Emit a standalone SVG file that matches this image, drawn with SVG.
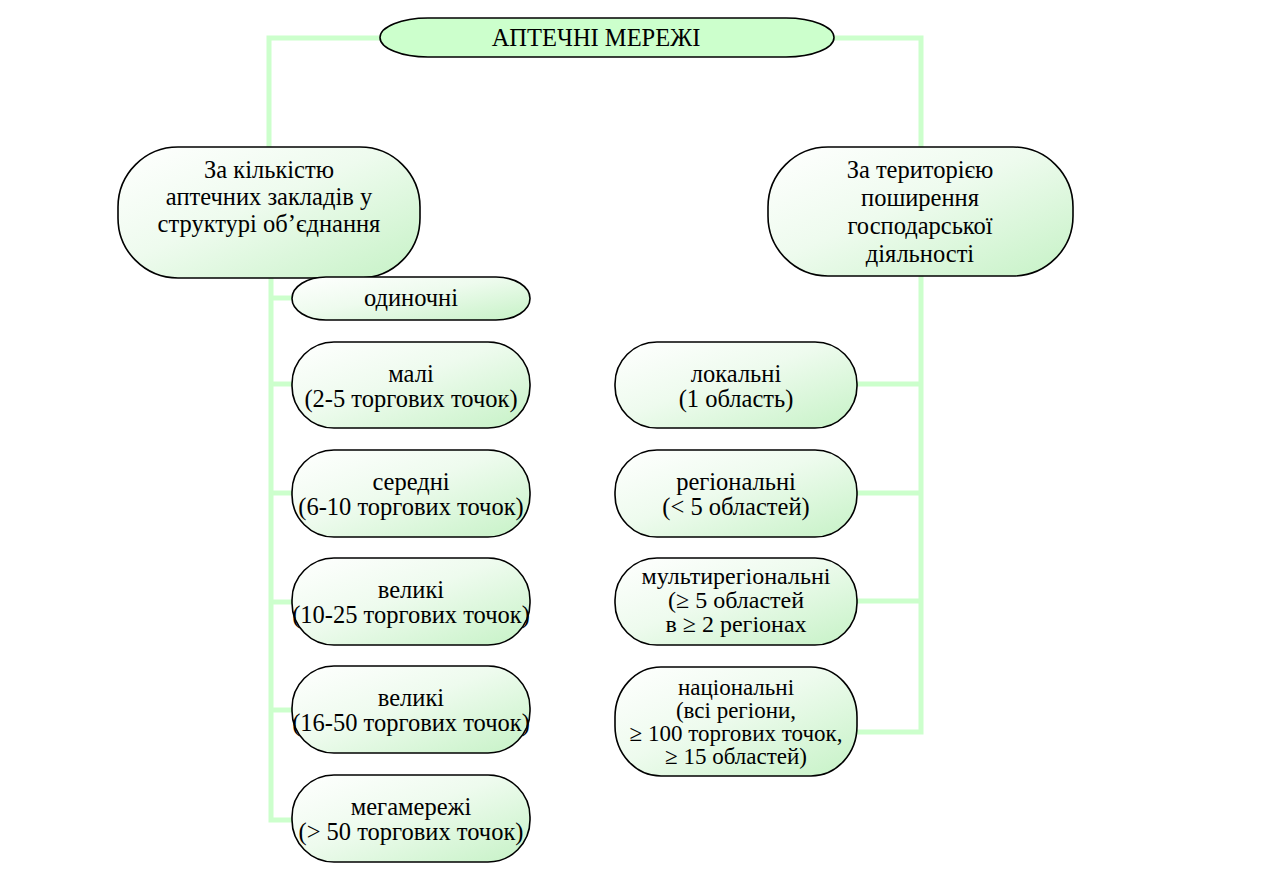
<svg xmlns="http://www.w3.org/2000/svg" width="1280" height="877" viewBox="0 0 1280 877">
<defs>
<linearGradient id="g" x1="0" y1="0" x2="1" y2="1">
<stop offset="0" stop-color="#ffffff"/>
<stop offset="0.45" stop-color="#eefbee"/>
<stop offset="1" stop-color="#c6f2c6"/>
</linearGradient>
</defs>
<style>
.conn{fill:none;stroke:#ccffcc;stroke-width:5;stroke-linejoin:miter}
.box{fill:url(#g);stroke:#000;stroke-width:1.6}
.top{fill:#ccffcc;stroke:#000;stroke-width:1.6}
text{font-family:"Liberation Serif","Times New Roman",serif;font-size:24.5px;fill:#000;text-anchor:middle}
.t24{font-size:24px}
.t23{font-size:23px}
</style>
<rect width="1280" height="877" fill="#fff"/>
<g id="connectors">
<polyline class="conn" points="381,38 269,38 269,148"/>
<polyline class="conn" points="833,38 921,38 921,148"/>
<polyline class="conn" points="271,278 271,820 293,820"/>
<line class="conn" x1="271" y1="298" x2="293" y2="298"/>
<line class="conn" x1="271" y1="384" x2="293" y2="384"/>
<line class="conn" x1="271" y1="493" x2="293" y2="493"/>
<line class="conn" x1="271" y1="602" x2="293" y2="602"/>
<line class="conn" x1="271" y1="710" x2="293" y2="710"/>
<polyline class="conn" points="921,276 921,732 856,732"/>
<line class="conn" x1="856" y1="384" x2="921" y2="384"/>
<line class="conn" x1="856" y1="493" x2="921" y2="493"/>
<line class="conn" x1="856" y1="601" x2="921" y2="601"/>
</g>
<g id="root">
<rect class="top" x="380" y="18" width="454" height="39" rx="48" ry="19.5"/>
<text x="596" y="46">АПТЕЧНІ МЕРЕЖІ</text>
</g>
<g id="by-count">
<rect class="box" x="118" y="147" width="302" height="131" rx="60" ry="60"/>
<text x="269" y="178">За кількістю<tspan x="269" dy="27">аптечних закладів у</tspan><tspan x="269" dy="27">структурі об’єднання</tspan></text>
</g>
<g id="by-territory">
<rect class="box" x="768" y="147" width="305" height="129" rx="60" ry="60"/>
<text x="920" y="178">За територією<tspan x="920" dy="28">поширення</tspan><tspan x="920" dy="28">господарської</tspan><tspan x="920" dy="28">діяльності</tspan></text>
</g>
<g id="single">
<rect class="box" x="292" y="277" width="238" height="43" rx="34" ry="21.5"/>
<text x="411" y="306">одиночні</text>
</g>
<g id="small">
<rect class="box" x="292" y="342" width="238" height="86" rx="42" ry="42"/>
<text x="411" y="382">малі<tspan x="411" dy="25">(2-5 торгових точок)</tspan></text>
</g>
<g id="medium">
<rect class="box" x="292" y="450" width="238" height="87" rx="42" ry="42"/>
<text x="411" y="490">середні<tspan x="411" dy="25">(6-10 торгових точок)</tspan></text>
</g>
<g id="large1">
<rect class="box" x="292" y="558" width="238" height="87" rx="42" ry="42"/>
<text x="411" y="598">великі<tspan x="411" dy="25">(10-25 торгових точок)</tspan></text>
</g>
<g id="large2">
<rect class="box" x="292" y="666" width="238" height="87" rx="42" ry="42"/>
<text x="411" y="706">великі<tspan x="411" dy="25">(16-50 торгових точок)</tspan></text>
</g>
<g id="mega">
<rect class="box" x="292" y="775" width="238" height="87" rx="42" ry="42"/>
<text x="411" y="815">мегамережі<tspan x="411" dy="25">(&gt; 50 торгових точок)</tspan></text>
</g>
<g id="local">
<rect class="box" x="615" y="342" width="242" height="86" rx="42" ry="42"/>
<text x="736" y="382">локальні<tspan x="736" dy="25">(1 область)</tspan></text>
</g>
<g id="regional">
<rect class="box" x="615" y="450" width="242" height="87" rx="42" ry="42"/>
<text x="736" y="490">регіональні<tspan x="736" dy="25">(&lt; 5 областей)</tspan></text>
</g>
<g id="multiregional">
<rect class="box" x="615" y="558" width="242" height="87" rx="42" ry="42"/>
<text class="t24" x="736" y="584">мультирегіональні<tspan x="736" dy="24">(≥ 5 областей</tspan><tspan x="736" dy="24">в ≥ 2 регіонах</tspan></text>
</g>
<g id="national">
<rect class="box" x="615" y="667" width="242" height="109" rx="46" ry="50"/>
<text class="t23" x="736" y="695">національні<tspan x="736" dy="23">(всі регіони,</tspan><tspan x="736" dy="23">≥ 100 торгових точок,</tspan><tspan x="736" dy="23">≥ 15 областей)</tspan></text>
</g>
</svg>
